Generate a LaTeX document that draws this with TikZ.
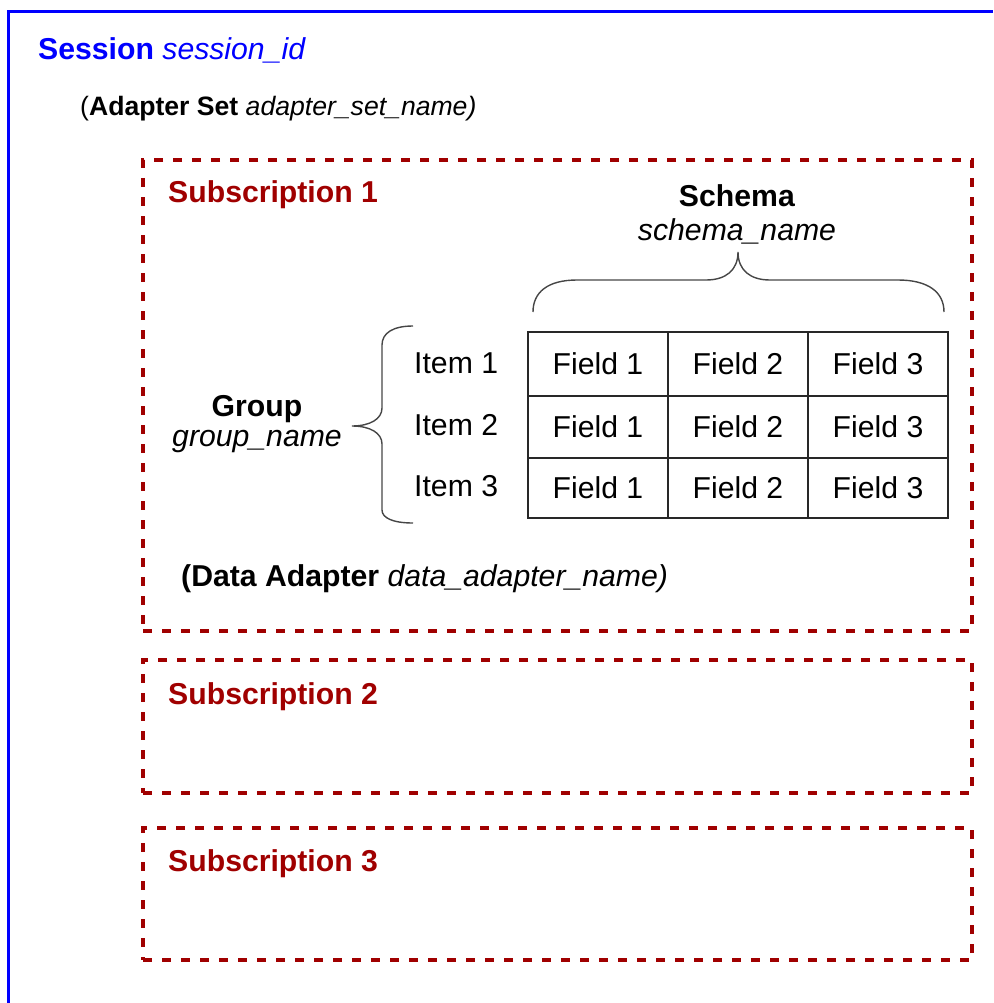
\documentclass[tikz,border=0pt]{standalone}
\usepackage{fontspec}
\setmainfont{Liberation Sans}
\definecolor{sessblue}{RGB}{0,0,255}
\definecolor{subred}{RGB}{160,0,0}
\definecolor{gridgray}{RGB}{40,40,40}
\definecolor{bracegray}{RGB}{70,70,70}
\begin{document}
\begin{tikzpicture}[x=1pt,y=-1pt,
  big/.style={font=\fontsize{30.2}{34}\selectfont},
  mid/.style={font=\fontsize{26.6}{30}\selectfont},
  lbl/.style={inner sep=0pt, anchor=base west},
  clbl/.style={inner sep=0pt, anchor=base},
  subbox/.style={draw=subred, line width=3.5pt, dash pattern=on 9pt off 10pt, anchor=north west, inner sep=0pt, outer sep=0pt},
  cell/.style={draw=gridgray, line width=1.3pt, minimum width=140pt, inner sep=0pt, outer sep=0pt, big},
  bracestyle/.style={draw=bracegray, line width=1.4pt}
]
\useasboundingbox (0,0) rectangle (993,1003);
% session frame
\coordinate (sessTR) at (993,12);
\coordinate (sessTL) at (8,12);
\coordinate (sessBL) at (8,1003);
\draw[sessblue, line width=3pt] (sessTR) -- (sessTL) -- (sessBL);
\node[lbl, big, text=sessblue] (sess) at (38,60) {\textbf{Session} \textit{session\_id}};
\node[lbl, mid] (aset) at (80,116) {(\textbf{Adapter Set} \textit{adapter\_set\_name)}};

% subscriptions
\node[subbox, minimum width=829pt, minimum height=471pt] (sub1) at (143,160) {};
\node[subbox, minimum width=829pt, minimum height=133pt] (sub2) at (143,660) {};
\node[subbox, minimum width=829pt, minimum height=132pt] (sub3) at (143,828) {};
\node[lbl, big, text=subred] (s1) at (168,203) {\textbf{Subscription 1}};
\node[lbl, big, text=subred] (s2) at (168,704) {\textbf{Subscription 2}};
\node[lbl, big, text=subred] (s3) at (168,871) {\textbf{Subscription 3}};

% schema
\node[clbl, big] (schema) at (737,206) {\textbf{Schema}};
\node[clbl, big] (schemaname) at (737,240) {\textit{schema\_name}};
\draw[bracestyle] (533,312) .. controls (533,292) and (548,280) .. (577,280) -- (706,280)
  .. controls (726,280) and (738,270) .. (738,252)
  .. controls (738,270) and (750,280) .. (770,280) -- (898,280)
  .. controls (928,280) and (944,292) .. (944,312);

% group
\node[clbl, big] (group) at (257,416) {\textbf{Group}};
\node[clbl, big] (groupname) at (257,446) {\textit{group\_name}};
\draw[bracestyle] (413,326) .. controls (393,326) and (382,333) .. (382,345) -- (382,408)
  .. controls (382,419) and (370,426) .. (352,426)
  .. controls (370,426) and (382,433) .. (382,444) -- (382,510)
  .. controls (382,518) and (393,523) .. (413,523);

% items
\node[lbl, big] (item1) at (414,373) {Item 1};
\node[lbl, big] (item2) at (414,435) {Item 2};
\node[lbl, big] (item3) at (414,496) {Item 3};

% table
\foreach \r/\yc/\h in {1/364/64, 2/427/62, 3/488/60}{
  \foreach \c/\xc in {1/598, 2/738, 3/878}{
    \node[cell, minimum height=\h pt] (f\r\c) at (\xc,\yc) {Field \c};
  }
}

% data adapter
\node[lbl, big] (dadapter) at (181,586) {\textbf{(Data Adapter} \textit{data\_adapter\_name)}};
\end{tikzpicture}
\end{document}
